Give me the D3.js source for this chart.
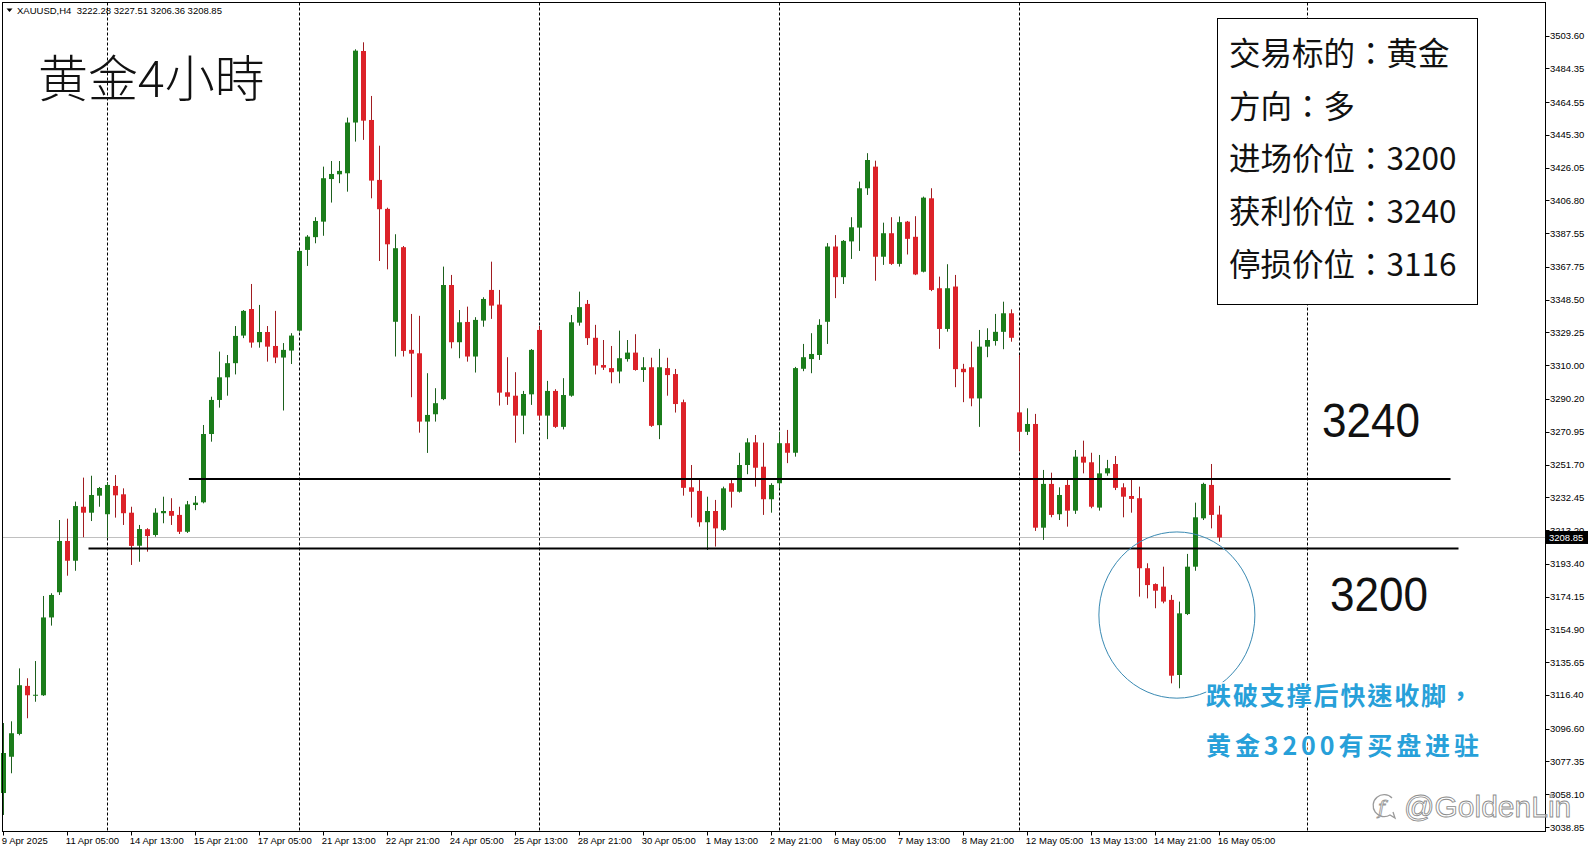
<!DOCTYPE html>
<html><head><meta charset="utf-8">
<script src="https://cdn.jsdelivr.net/npm/d3@7"></script>
<style>body{margin:0;background:#fff;overflow:hidden}svg{display:block}</style>
</head><body>
<svg id="c" width="1591" height="852"></svg>
<script>
const symbol = "XAUUSD,H4";
const opens = [
3058.8,3080.1,3093.5,3121.7,3116.0,3116.2,3161.9,3176.7,3206.8,3195.2,
3226.9,3223.4,3233.4,3222.5,3239.1,3234.2,3223.4,3204.0,3213.7,3210.3,
3223.1,3224.4,3222.1,3212.2,3227.9,3229.5,3269.6,3289.6,3302.9,3311.2,
3327.4,3343.0,3323.5,3329.5,3321.3,3314.5,3318.6,3330.3,3377.7,3385.2,
3394.3,3419.3,3422.1,3422.7,3452.5,3494.5,3454.0,3418.8,3401.8,3335.5,
3379.3,3319.0,3317.0,3276.9,3281.2,3290.1,3357.1,3323.5,3335.4,3315.1,
3336.2,3354.2,3345.6,3294.1,3292.1,3280.4,3292.9,3330.7,3280.4,3294.9,
3273.8,3292.1,3335.0,3346.0,3326.1,3310.1,3308.3,3306.3,3313.6,3317.4,
3307.2,3308.8,3274.8,3308.3,3304.8,3288.3,3238.3,3236.2,3217.8,3224.4,
3213.3,3240.7,3235.7,3251.4,3264.7,3250.4,3231.3,3240.7,3264.2,3258.6,
3307.9,3313.6,3316.0,3335.5,3379.7,3361.7,3382.7,3390.8,3413.9,3426.6,
3373.7,3387.5,3369.5,3394.3,3385.4,3364.9,3408.0,3355.2,3331.3,3356.2,
3307.9,3308.8,3290.5,3320.9,3324.2,3329.6,3340.5,3282.3,3270.9,3275.5,
3214.6,3240.3,3222.5,3239.7,3224.6,3256.3,3253.0,3226.4,3246.5,3252.0,
3238.3,3233.2,3231.9,3190.8,3181.5,3180.0,3172.2,3128.1,3163.9,3191.7,
3220.1,3239.7,3222.28];
const highs = [
3099.9,3100.9,3132.0,3126.2,3136.3,3174.5,3176.1,3219.1,3219.9,3229.9,
3244.0,3245.1,3238.5,3241.4,3245.5,3237.7,3226.9,3216.2,3214.3,3226.0,
3232.8,3231.9,3226.9,3230.3,3233.2,3274.9,3291.5,3318.0,3316.0,3333.0,
3342.4,3357.7,3345.4,3333.0,3341.9,3323.0,3328.8,3377.7,3386.4,3396.9,
3426.6,3429.9,3429.9,3455.4,3495.5,3499.6,3468.1,3438.9,3402.5,3386.9,
3380.0,3340.1,3339.0,3305.3,3296.5,3367.9,3363.0,3342.4,3344.4,3338.2,
3349.9,3370.8,3354.2,3314.7,3305.9,3294.9,3319.5,3333.0,3300.8,3295.9,
3302.4,3339.5,3353.2,3348.3,3333.7,3324.8,3321.3,3330.3,3324.8,3328.2,
3314.7,3314.4,3319.6,3314.4,3307.8,3289.8,3251.4,3242.6,3232.8,3230.9,
3238.7,3242.6,3258.6,3267.1,3269.0,3264.5,3240.7,3270.9,3272.0,3309.0,
3322.5,3328.8,3337.0,3381.7,3386.4,3383.5,3396.9,3417.8,3434.5,3430.1,
3393.7,3396.9,3397.3,3394.7,3397.5,3409.0,3413.9,3362.0,3369.3,3363.0,
3310.8,3323.9,3330.7,3331.7,3340.1,3347.3,3342.8,3316.0,3284.7,3281.4,
3248.5,3246.9,3238.3,3242.6,3260.2,3265.7,3258.6,3257.3,3254.4,3256.7,
3240.7,3242.6,3238.7,3193.7,3181.9,3191.7,3175.1,3171.2,3199.2,3229.3,
3241.0,3252.0,3227.51];
const lows = [
3045.9,3070.4,3092.7,3102.7,3112.4,3115.8,3157.1,3175.1,3186.4,3189.3,
3209.0,3218.5,3226.9,3208.7,3220.5,3216.2,3192.7,3194.6,3200.5,3209.3,
3217.2,3216.2,3210.9,3211.5,3224.9,3228.9,3265.1,3285.1,3292.1,3304.6,
3325.9,3320.3,3320.3,3312.1,3311.2,3283.4,3310.7,3329.7,3368.3,3381.6,
3386.0,3405.5,3416.9,3411.9,3441.3,3442.3,3408.0,3371.2,3366.3,3315.1,
3315.1,3291.2,3270.4,3258.5,3276.9,3289.5,3319.9,3314.1,3312.1,3305.7,
3332.6,3337.2,3286.3,3286.7,3264.5,3269.5,3286.7,3277.9,3266.6,3273.2,
3272.3,3291.5,3333.2,3321.9,3304.6,3307.2,3299.4,3299.4,3312.1,3306.8,
3300.2,3273.8,3266.6,3292.1,3282.2,3233.4,3220.5,3215.2,3201.5,3203.5,
3212.8,3226.4,3235.2,3246.0,3238.7,3222.1,3223.4,3237.7,3252.5,3256.3,
3306.5,3305.3,3313.1,3322.5,3349.4,3357.7,3372.4,3377.1,3410.0,3359.6,
3368.9,3368.9,3367.9,3375.0,3362.9,3364.5,3353.5,3319.6,3329.7,3297.1,
3288.3,3285.9,3273.8,3314.7,3321.5,3319.4,3323.8,3259.4,3269.0,3212.7,
3207.4,3220.7,3219.1,3215.2,3222.7,3246.5,3226.0,3224.6,3245.1,3236.7,
3220.7,3223.4,3174.1,3173.1,3167.3,3170.2,3123.2,3120.3,3163.3,3189.3,
3219.1,3214.2,3206.36];
const closes = [
3082.3,3093.9,3122.1,3116.2,3116.5,3161.9,3175.1,3206.8,3195.2,3227.3,
3223.4,3233.8,3237.9,3239.7,3233.6,3223.1,3203.9,3213.8,3209.7,3223.4,
3224.4,3221.6,3212.2,3228.3,3229.3,3269.6,3289.6,3302.9,3311.2,3327.2,
3341.9,3323.3,3329.5,3320.9,3314.5,3319.0,3327.4,3377.1,3385.5,3394.7,
3419.8,3422.3,3424.1,3452.5,3494.7,3453.6,3418.4,3401.6,3381.0,3378.7,
3318.4,3316.8,3276.9,3280.8,3287.7,3357.1,3323.5,3335.2,3315.1,3336.6,
3348.9,3345.0,3293.9,3291.5,3280.4,3293.1,3319.0,3280.4,3294.9,3273.8,
3292.5,3335.2,3344.1,3325.9,3309.8,3308.6,3305.9,3314.1,3317.4,3307.2,
3308.8,3274.4,3308.8,3304.2,3287.2,3238.0,3235.7,3217.8,3224.4,3214.2,
3237.7,3235.7,3251.4,3264.7,3249.8,3231.3,3239.7,3264.2,3258.6,3308.3,
3314.7,3316.6,3333.7,3379.7,3361.7,3383.0,3391.0,3413.9,3430.5,3373.7,
3387.5,3369.5,3394.0,3384.2,3363.3,3408.4,3354.2,3331.3,3355.2,3307.7,
3305.9,3290.5,3320.9,3324.8,3329.6,3340.5,3326.1,3270.9,3275.5,3214.6,
3240.3,3222.1,3233.8,3224.6,3256.3,3252.8,3226.9,3246.5,3249.5,3238.0,
3232.8,3231.5,3190.8,3180.9,3177.6,3171.2,3127.7,3164.3,3191.7,3220.7,
3240.3,3222.1,3208.85];

const timeLabels = ["9 Apr 2025","11 Apr 05:00","14 Apr 13:00","15 Apr 21:00","17 Apr 05:00",
  "21 Apr 13:00","22 Apr 21:00","24 Apr 05:00","25 Apr 13:00","28 Apr 21:00","30 Apr 05:00",
  "1 May 13:00","2 May 21:00","6 May 05:00","7 May 13:00","8 May 21:00","12 May 05:00",
  "13 May 13:00","14 May 21:00","16 May 05:00"];
const timeLabelBars = [0,8,16,24,32,40,48,56,64,72,80,88,96,104,112,120,128,136,144,152];
const separatorBars = [13,37,67,97,127,163];
const priceTicks = [3503.60,3484.35,3464.55,3445.30,3426.05,3406.80,3387.55,3367.75,3348.50,
  3329.25,3310.00,3290.20,3270.95,3251.70,3232.45,3213.20,3193.40,3174.15,3154.90,3135.65,
  3116.40,3096.60,3077.35,3058.10,3038.85];
const priceTickLabels = priceTicks.map(d => d.toFixed(2));

const levelPrices = [3243.2, 3202.4];
const levelStartBars = [23.2, 10.65];
const levelEndBars = [180.9, 181.9];
const levelTexts = ["3240", "3200"];

const circleCenterBar = 146.7, circleCenterPrice = 3163.3;
const circleRadiusBars = 9.75, circleRadiusPrice = 48.8;

const titleText = "黄金4小時";
const infoLines = ["交易标的：黄金", "方向：多", "进场价位：3200", "获利价位：3240", "停损价位：3116"];
const noteLines = ["跌破支撑后快速收脚，", "黄金3200有买盘进驻"];
const watermark = "@GoldenLin";

// ---------- drawing ----------
const svg = d3.select("#c");
const L = 2.5, T = 2.5, R = 1545.5, B = 831.5;
const x = d3.scaleLinear().domain([0, 152]).range([3.3, 1219.3]);
const y = d3.scaleLinear().domain([3038.85, 3503.6]).range([827, 35.5]);
const axisFont = "'Liberation Sans', Arial, sans-serif";
const cjkFont = "'Noto Sans CJK TC', 'Noto Sans CJK SC', sans-serif";

svg.append("rect").attr("width",1591).attr("height",852).attr("fill","#fff");

const plot = svg.append("g");
// week separators
plot.selectAll("line.sep").data(separatorBars).join("line")
  .attr("x1", d => Math.round(x(d)) + 0.5).attr("x2", d => Math.round(x(d)) + 0.5)
  .attr("y1", T).attr("y2", B)
  .attr("stroke", "#000").attr("stroke-width", 1).attr("stroke-dasharray", "3,2");

// current price line
const lp = closes[closes.length-1];
plot.append("line").attr("x1", L).attr("x2", R)
  .attr("y1", Math.round(y(lp)) + 0.5).attr("y2", Math.round(y(lp)) + 0.5)
  .attr("stroke", "#c0c0c0").attr("stroke-width", 1);

// candles
const idx = d3.range(opens.length);
const up = i => closes[i] >= opens[i];
const cg = plot.append("g");
cg.selectAll("line.wick").data(idx).join("line")
  .attr("x1", i => Math.round(x(i)) + 0.5).attr("x2", i => Math.round(x(i)) + 0.5)
  .attr("y1", i => y(highs[i])).attr("y2", i => y(lows[i]))
  .attr("stroke", i => up(i) ? "#1d5f1d" : "#a01c20").attr("stroke-width", 1);
cg.selectAll("rect.body").data(idx).join("rect")
  .attr("x", i => Math.round(x(i)) - 2)
  .attr("width", 5)
  .attr("y", i => y(Math.max(opens[i], closes[i])))
  .attr("height", i => Math.max(1, Math.abs(y(opens[i]) - y(closes[i]))))
  .attr("fill", i => up(i) ? "#1b7d1b" : "#dc2229");

// level lines
plot.selectAll("line.lvl").data(levelPrices).join("line")
  .attr("x1", (d, i) => x(levelStartBars[i])).attr("x2", (d, i) => x(levelEndBars[i]))
  .attr("y1", d => y(d)).attr("y2", d => y(d))
  .attr("stroke", "#000").attr("stroke-width", 2);

// circle
const cx = x(circleCenterBar), cy = y(circleCenterPrice);
plot.append("ellipse").attr("cx", cx).attr("cy", cy)
  .attr("rx", x(circleCenterBar + circleRadiusBars) - cx)
  .attr("ry", y(circleCenterPrice - circleRadiusPrice) - cy)
  .attr("fill", "none").attr("stroke", "#3a8ab3").attr("stroke-width", 1);

// frame
svg.append("rect").attr("x", L).attr("y", T).attr("width", R - L).attr("height", B - T)
  .attr("fill", "none").attr("stroke", "#000").attr("stroke-width", 1);

// price axis
const pa = svg.append("g");
pa.selectAll("line").data(priceTicks).join("line")
  .attr("x1", R).attr("x2", R + 4)
  .attr("y1", d => Math.round(y(d)) + 0.5).attr("y2", d => Math.round(y(d)) + 0.5)
  .attr("stroke", "#000");
pa.selectAll("text").data(priceTicks).join("text")
  .attr("x", 1550).attr("y", d => y(d) + 3.5)
  .attr("font-family", axisFont).attr("font-size", 9.5).attr("fill", "#000")
  .text((d, i) => priceTickLabels[i]);
// last price box
svg.append("rect").attr("x", 1546).attr("y", y(lp) - 6.5).attr("width", 42).attr("height", 13).attr("fill", "#000");
svg.append("text").attr("x", 1549).attr("y", y(lp) + 3.5)
  .attr("font-family", axisFont).attr("font-size", 9.5).attr("fill", "#fff").text(lp.toFixed(2));

// time axis
const ta = svg.append("g");
ta.selectAll("line").data(timeLabelBars).join("line")
  .attr("x1", d => Math.round(x(d)) + 0.5).attr("x2", d => Math.round(x(d)) + 0.5)
  .attr("y1", B).attr("y2", B + 4).attr("stroke", "#000");
ta.selectAll("text").data(timeLabelBars).join("text")
  .attr("x", d => x(d) - 1.5).attr("y", 844)
  .attr("font-family", axisFont).attr("font-size", 9.5).attr("fill", "#000")
  .text((d, i) => timeLabels[i]);

// header
const n = opens.length - 1;
svg.append("path").attr("d", "M6.5,8.5 L12.5,8.5 L9.5,12 Z").attr("fill", "#000");
svg.append("text").attr("x", 17).attr("y", 14)
  .attr("font-family", axisFont).attr("font-size", 9.5).attr("fill", "#000")
  .attr("xml:space", "preserve")
  .text(`${symbol}  ${opens[n].toFixed(2)} ${highs[n].toFixed(2)} ${lows[n].toFixed(2)} ${closes[n].toFixed(2)}`);

// title
svg.append("text").attr("x", 38).attr("y", 97)
  .attr("font-family", cjkFont).attr("font-weight", 300)
  .attr("font-size", 50).attr("fill", "#111").text(titleText);

// info box
svg.append("rect").attr("x", 1217.5).attr("y", 18.5).attr("width", 260).attr("height", 286)
  .attr("fill", "#fff").attr("stroke", "#000").attr("stroke-width", 1);
svg.selectAll("text.info").data(infoLines).join("text").attr("class", "info")
  .attr("x", 1229).attr("y", (d, i) => 65 + i * 52.7)
  .attr("font-family", cjkFont).attr("font-size", 31.5)
  .attr("fill", "#111").text(d => d);

// level texts
svg.selectAll("text.lvlt").data(levelTexts).join("text").attr("class", "lvlt")
  .attr("x", (d, i) => i === 0 ? 1322 : 1330)
  .attr("y", (d, i) => i === 0 ? 436.5 : 610.5)
  .attr("font-family", "'Liberation Sans', Arial, sans-serif").attr("font-size", 48)
  .attr("textLength", 98).attr("lengthAdjust", "spacingAndGlyphs")
  .attr("fill", "#111").text(d => d);

// note
const noteLengths = [267, 273];
svg.selectAll("text.note").data(noteLines).join("text").attr("class", "note")
  .attr("x", 1206).attr("y", (d, i) => i === 0 ? 705 : 754.5)
  .attr("font-family", cjkFont).attr("font-weight", 700)
  .attr("font-size", 25)
  .attr("textLength", (d, i) => noteLengths[i]).attr("lengthAdjust", "spacing")
  .attr("fill", "#27a0d9").attr("stroke", "#fff").attr("stroke-width", 3)
  .attr("paint-order", "stroke").text(d => d);

// watermark
const wm = svg.append("g");
wm.append("path")
  .attr("d", "M1392,798 A11,11 0 1 0 1390,815 L1395,818 L1393,812")
  .attr("fill", "none").attr("stroke", "#9a9a9a").attr("stroke-width", 1.3);
wm.append("text").attr("x", 1378).attr("y", 814).attr("font-family", "'DejaVu Serif', serif")
  .attr("font-style", "italic").attr("font-size", 19).attr("fill", "none")
  .attr("stroke", "#9a9a9a").attr("stroke-width", 0.9).text("f");
wm.append("text").attr("x", 1404).attr("y", 817)
  .attr("font-family", "'Liberation Sans', Arial, sans-serif").attr("font-size", 30)
  .attr("fill", "#fff").attr("fill-opacity", 0.6).attr("stroke", "#8c8c8c").attr("stroke-width", 0.9)
  .text(watermark);
</script>
</body></html>
